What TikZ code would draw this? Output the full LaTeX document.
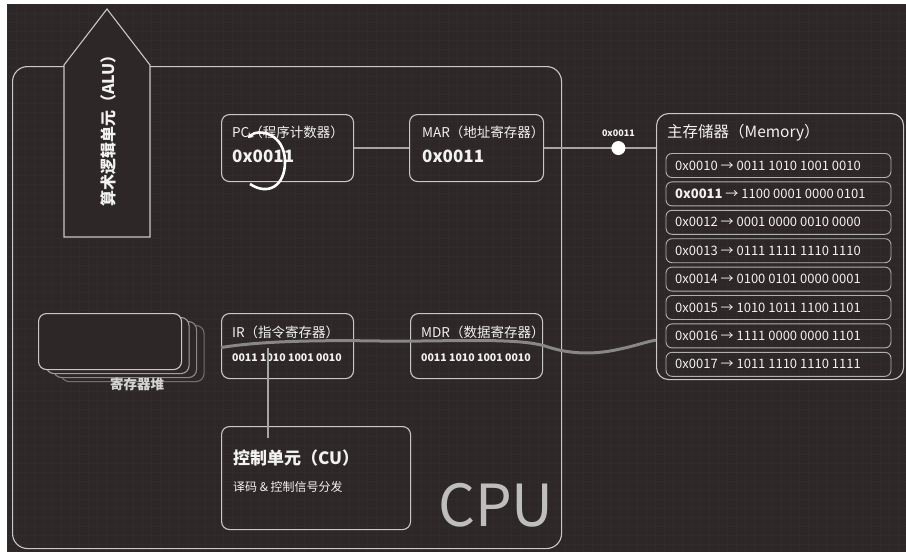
\documentclass[tikz,border=0pt]{standalone}
\usepackage{fontspec}
\setmainfont{Noto Sans CJK SC}
\usetikzlibrary{calc,arrows.meta}
\definecolor{bg}{RGB}{46,39,39}
\definecolor{gridc}{RGB}{50,43,43}
\definecolor{edge}{RGB}{200,200,200}
\definecolor{wirec}{RGB}{165,165,165}
\definecolor{busc}{RGB}{135,135,135}
\definecolor{txt}{RGB}{242,242,242}
\definecolor{cpuc}{RGB}{190,190,190}
\newcommand{\fs}[1]{\fontsize{#1}{#1}\selectfont}
\tikzset{
 box/.style={draw=edge, line width=1.1pt, rounded corners=8pt, fill=none, anchor=north west, inner sep=0pt},
 lbl/.style={text=txt, inner sep=0pt, anchor=west},
 wire/.style={draw=wirec, line width=2.5pt},
 bus/.style={draw=busc, line width=3pt},
 memrow/.style={draw=edge!85!bg, line width=0.9pt, rounded corners=6pt, minimum width=225pt, minimum height=24pt, inner sep=0pt},
}
\begin{document}
\begin{tikzpicture}[x=1pt,y=-1pt]
\useasboundingbox (0,0) rectangle (906,552);
\fill[white] (0,0) rectangle (906,552);
\fill[bg] (7,4) rectangle (906,552);
\foreach \i in {0,...,99} \draw[gridc, line width=0.4pt] ({7+9*\i},4) -- ({7+9*\i},552);
\foreach \j in {0,...,60} \draw[gridc, line width=0.4pt] (7,{4+9*\j}) -- (906,{4+9*\j});

% CPU frame
\node[box, rounded corners=15pt, minimum width=549pt, minimum height=482pt] (cpu) at (12,66) {};
\node[text=cpuc, font=\fs{58}, inner sep=0pt, anchor=base west] (cpul) at (438,526) {CPU};

% ALU arrow
\draw[draw=edge, line width=1.1pt, fill=bg] (64,237) -- (64,65) -- (107,9) -- (150,65) -- (150,237) -- cycle;
\node[text=txt, rotate=90, inner sep=0pt, font=\fs{16}\bfseries] (alu) at (108,127) {算术逻辑单元（ALU）};

% PC
\node[box, minimum width=132pt, minimum height=67pt] (pc) at (221,114) {};
\node[lbl, font=\fs{13.5}] (pct) at (232,132) {PC（程序计数器）};
\node[lbl, font=\fs{17}\bfseries] (pcv) at (232,156) {0x0011};
\draw[white, line width=2.6pt, {Stealth[length=5pt,width=7pt]}-] (248,138) .. controls (258,128) and (285,133) .. (285,162) .. controls (285,186) and (268,196) .. (250,184);

% MAR
\node[box, minimum width=134pt, minimum height=67pt] (mar) at (409,114) {};
\node[lbl, font=\fs{13.5}] (mart) at (422,132) {MAR（地址寄存器）};
\node[lbl, font=\fs{17}\bfseries] (marv) at (422,156) {0x0011};

% Memory
\node[box, rounded corners=12pt, minimum width=247pt, minimum height=266pt] (mem) at (656,113) {};
\node[lbl, font=\fs{15.5}] (memt) at (667,133) {主存储器（Memory）};
\foreach \k/\a/\v in {0/0x0010/0011 1010 1001 0010, 1/{\textbf{0x0011}}/1100 0001 0000 0101, 2/0x0012/0001 0000 0010 0000, 3/0x0013/0111 1111 1110 1110, 4/0x0014/0100 0101 0000 0001, 5/0x0015/1010 1011 1100 1101, 6/0x0016/1111 0000 0000 1101, 7/0x0017/1011 1110 1110 1111}{
  \node[memrow] (r\k) at (778.5,{165.5+28.4*\k}) {};
  \node[lbl, font=\fs{13}] (rt\k) at (675,{165.5+28.4*\k}) {\a\ → \v};
}

% address wires
\draw[wire] (pc.east) -- (mar.west);
\coordinate (memin) at (mem.west |- mar.east);
\draw[wire] (mar.east) -- (memin);
\node[circle, fill=white, inner sep=0pt, minimum size=14pt] (dot) at ($(mar.east)!0.664!(memin)$) {};
\node[text=txt, font=\fs{9}\bfseries, inner sep=0pt] (dotl) at ($(dot)+(0,-15)$) {0x0011};

% register file stack
\foreach \k/\c in {3/45,2/60,1/75}
  \node[box, draw=edge!\c!bg, fill=bg, minimum width=143pt, minimum height=56pt] (st\k) at ({38+7.5*\k},{313+4*\k}) {};
\node[box, fill=bg, minimum width=143pt, minimum height=56pt] (rf) at (38,313) {};
\node[text=txt!85!bg, font=\fs{13.5}\bfseries, inner sep=0pt] (rfl) at (137,384) {寄存器堆};

% IR
\node[box, minimum width=132pt, minimum height=65pt] (ir) at (221,313) {};
\node[lbl, font=\fs{13.5}] (irt) at (232,332) {IR（指令寄存器）};
\node[lbl, font=\fs{10.5}\bfseries] (irv) at (232,358) {0011 1010 1001 0010};

% MDR
\node[box, minimum width=132pt, minimum height=65pt] (mdr) at (410,313) {};
\node[lbl, font=\fs{13.5}] (mdrt) at (421,332) {MDR（数据寄存器）};
\node[lbl, font=\fs{10.5}\bfseries] (mdrv) at (421,358) {0011 1010 1001 0010};

% CU
\node[box, minimum width=189pt, minimum height=103pt] (cu) at (221,426) {};
\node[lbl, font=\fs{17}\bfseries] (cut) at (233,458) {控制单元（CU）};
\node[lbl, font=\fs{12}] (cus) at (233,487) {译码 \& 控制信号分发};

% data bus
\draw[bus] ($(ir.west)+(0,1.5)$) .. controls (260,341) and (320,340) .. (380,341) .. controls (440,342) and (515,337) .. (545,346) .. controls (565,353) and (590,356) .. (620,349) .. controls (635,346) and (645,342) .. ($(mem.south west)+(0,-40)$);
\draw[wire] ($(ir.west)+(47,2)$) -- ($(cu.north west)+(47,12)$);
\end{tikzpicture}
\end{document}
